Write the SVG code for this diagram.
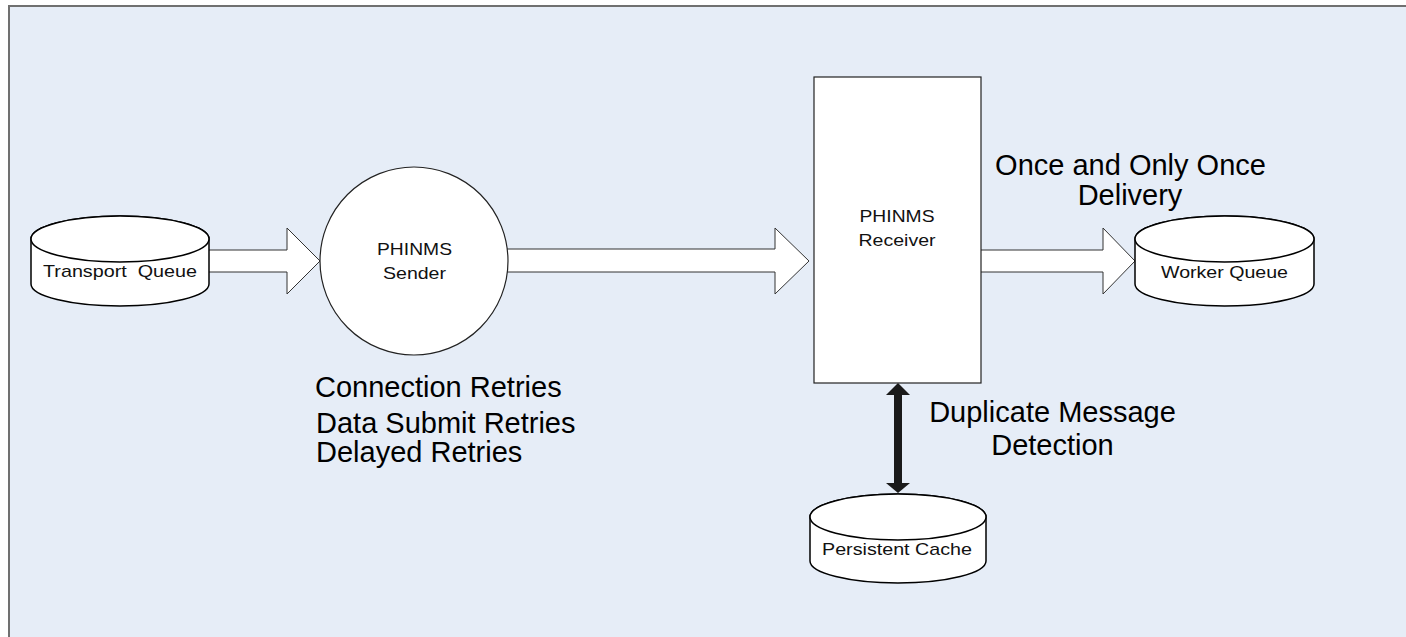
<svg xmlns="http://www.w3.org/2000/svg" width="1406" height="637" viewBox="0 0 1406 637">
<style>
.bg{fill:#E6EDF7;stroke:#707070;stroke-width:2}
.cyl{fill:#ffffff;stroke:#000000;stroke-width:1.5}
.node{fill:#ffffff;stroke:#222222;stroke-width:1.2}
.flow{fill:#ffffff;stroke:#333333;stroke-width:1}
.dbl{fill:#1a1a1a;stroke:none}
.lbl{font-family:"Liberation Sans",Arial,sans-serif;font-size:17px;fill:#111111;text-anchor:middle;white-space:pre}
.big{font-family:"Liberation Sans",Arial,sans-serif;font-size:29px;fill:#000000}
</style>
<rect x="0" y="0" width="1406" height="637" fill="#ffffff"/>
<rect class="bg" x="9" y="6" width="1410" height="640"/>
<g id="connectors">
<polygon class="flow" points="205,250 287,250 287,228 320,261 287,294 287,272 205,272"/>
<polygon class="flow" points="500,249 775,249 775,228 809,261 775,294 775,272 500,272"/>
<polygon class="flow" points="975,250 1103,250 1103,228 1135,261 1103,294 1103,272 975,272"/>
<g id="dup-arrow">
<rect class="dbl" x="894" y="393" width="8" height="92"/>
<polygon class="dbl" points="898,383 886,395 910,395"/>
<polygon class="dbl" points="898,493 886,483 910,483"/>
</g>
</g>
<g id="transport-queue">
<path class="cyl" d="M31,239 A89,23 0 0 1 209,239 L209,284 A89,22 0 0 1 31,284 Z"/>
<ellipse class="cyl" cx="120" cy="239" rx="89" ry="23"/>
<text class="lbl" x="120" y="277" textLength="154" lengthAdjust="spacingAndGlyphs">Transport  Queue</text>
</g>
<g id="phinms-sender">
<circle class="node" cx="414" cy="261" r="94"/>
<text class="lbl" x="414.5" y="255" textLength="75" lengthAdjust="spacingAndGlyphs">PHINMS</text>
<text class="lbl" x="414.5" y="279" textLength="63" lengthAdjust="spacingAndGlyphs">Sender</text>
</g>
<g id="phinms-receiver">
<rect class="node" x="814" y="77" width="167" height="306"/>
<text class="lbl" x="897" y="222" textLength="75" lengthAdjust="spacingAndGlyphs">PHINMS</text>
<text class="lbl" x="897" y="246" textLength="77" lengthAdjust="spacingAndGlyphs">Receiver</text>
</g>
<g id="worker-queue">
<path class="cyl" d="M1135,239 A89.5,23 0 0 1 1314,239 L1314,284 A89.5,22 0 0 1 1135,284 Z"/>
<ellipse class="cyl" cx="1224.5" cy="239" rx="89.5" ry="23"/>
<text class="lbl" x="1224.5" y="278" textLength="127" lengthAdjust="spacingAndGlyphs">Worker Queue</text>
</g>
<g id="persistent-cache">
<path class="cyl" d="M810,517 A88,23 0 0 1 986,517 L986,561 A88,22 0 0 1 810,561 Z"/>
<ellipse class="cyl" cx="898" cy="517" rx="88" ry="23"/>
<text class="lbl" x="897" y="555" textLength="150" lengthAdjust="spacingAndGlyphs">Persistent Cache</text>
</g>
<g id="annotations">
<text class="big" x="1130.5" y="175" text-anchor="middle">Once and Only Once</text>
<text class="big" x="1130" y="205" text-anchor="middle">Delivery</text>
<text class="big" x="315" y="397">Connection Retries</text>
<text class="big" x="316" y="433">Data Submit Retries</text>
<text class="big" x="316" y="462">Delayed Retries</text>
<text class="big" x="1052.5" y="422" text-anchor="middle">Duplicate Message</text>
<text class="big" x="1052.5" y="455" text-anchor="middle">Detection</text>
</g>
</svg>
